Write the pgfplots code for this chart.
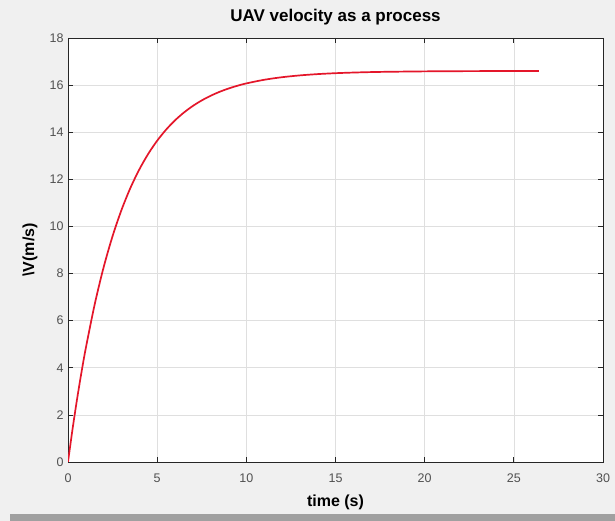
\documentclass[border=0pt]{standalone}
\usepackage{fontspec}
\setmainfont{Liberation Sans}
\usepackage{pgfplots}
\pgfplotsset{compat=1.18}

\definecolor{figbg}{RGB}{240,240,240}
\definecolor{axgray}{RGB}{38,38,38}
\definecolor{gridgray}{RGB}{223,223,223}
\definecolor{curve}{RGB}{228,22,42}
\definecolor{barbot}{RGB}{160,160,160}

\begin{document}
\begin{tikzpicture}
% figure window background
\fill[figbg] (-68pt,-59pt) rectangle (547pt,462pt);
\fill[barbot] (-58pt,-59pt) rectangle (547pt,-52pt);
\begin{axis}[
    width=535pt, height=424pt, scale only axis,
    xmin=0, xmax=30, ymin=0, ymax=18,
    xtick={0,5,...,30}, ytick={0,2,...,18},
    axis background/.style={fill=white},
    grid=major,
    major grid style={gridgray, line width=0.6pt},
    axis line style={axgray, line width=0.7pt},
    tick align=inside, major tick length=5pt,
    tick style={axgray, line width=0.7pt},
    /pgf/number format/assume math mode=true,
    tick label style={font=\fontsize{12.5}{14}\selectfont, text=axgray!80},
    xticklabel style={yshift=-8pt},
    yticklabel style={xshift=-1pt},
    title={UAV velocity as a process},
    title style={font=\bfseries\fontsize{17}{20}\selectfont, at={(axis description cs:0.5,1)}, anchor=base, yshift=10pt},
    xlabel={time (s)},
    xlabel style={font=\bfseries\fontsize{16}{19}\selectfont, at={(axis description cs:0.5,0)}, anchor=base, yshift=-45pt},
    ylabel={\textbackslash V(m/s)},
    ylabel style={font=\bfseries\fontsize{16}{19}\selectfont, at={([xshift=-34pt]axis description cs:0,0.5)}, anchor=base},
]
\addplot[curve, line width=1.7pt, smooth] coordinates {
(0,0) (0.25,1.371) (0.5,2.629) (0.75,3.783) (1,4.840) (1.5,6.703) (2,8.272)
(2.5,9.590) (3,10.700) (3.5,11.635) (4,12.420) (4.5,13.082) (5,13.640)
(5.5,14.108) (6,14.504) (6.5,14.835) (7,15.115) (7.5,15.350) (8,15.548)
(8.5,15.715) (9,15.855) (9.5,15.973) (10,16.072) (11,16.226)
(12,16.335) (13,16.412) (14,16.467) (15,16.506) (16,16.533) (17,16.553)
(18,16.566) (20,16.583) (22,16.592) (24,16.596) (26.4,16.598)
};
\end{axis}
\pgfresetboundingbox
\path (-68pt,-59pt) rectangle (547pt,462pt);
\end{tikzpicture}
\end{document}
